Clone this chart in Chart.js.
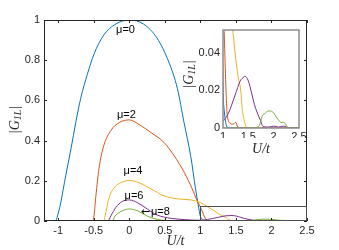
<!DOCTYPE html>
<html>
<head>
<meta charset="utf-8">
<script src="https://cdn.jsdelivr.net/npm/chart.js@4.4.0/dist/chart.umd.min.js"></script>
<style>
  html, body { margin: 0; padding: 0; background: #fff; }
  #wrap { position: relative; width: 339px; height: 250px; }
  #wrap canvas { position: absolute; left: 0; top: 0; }
</style>
</head>
<body>
<div id="wrap">
  <canvas id="main" width="339" height="250"></canvas>
  <canvas id="inset" width="339" height="250"></canvas>
</div>
<script>
// ticks
const xTicks = [-1, -0.5, 0, 0.5, 1, 1.5, 2, 2.5];
const yTicks = [0, 0.2, 0.4, 0.6, 0.8, 1];
const insetXTicks = [1, 1.5, 2, 2.5];
const insetYTicks = [0, 0.02, 0.04];

// |G_1L| against U/t, one pair of arrays per mu
const u0 = [-1.2, -1.04, -1.01, -0.965, -0.895, -0.82, -0.753, -0.684, -0.59, -0.497, -0.359, -0.19, 0, 0.2, 0.39, 0.557, 0.676, 0.77, 0.863, 0.932, 0.97, 1.0, 1.03, 1.06, 1.1, 2.5];
const g0 = [0, 0, 0.025, 0.09, 0.225, 0.36, 0.49, 0.61, 0.73, 0.83, 0.925, 0.98, 1.0, 0.98, 0.91, 0.79, 0.66, 0.49, 0.325, 0.16, 0.08, 0.022, 0.008, 0.002, 0, 0];

const u2 = [-1.2, -0.52, -0.497, -0.47, -0.427, -0.359, -0.26, -0.14, 0, 0.138, 0.305, 0.49, 0.63, 0.776, 0.885, 0.956, 1.0, 1.03, 1.06, 1.08, 1.14, 1.2, 1.25, 1.29, 1.32, 2.5];
const g2 = [0, 0, 0.025, 0.125, 0.26, 0.375, 0.45, 0.49, 0.503, 0.48, 0.44, 0.39, 0.325, 0.24, 0.16, 0.1, 0.07, 0.045, 0.02, 0.008, 0.0025, 0.002, 0.003, 0.0005, 0, 0];

const u4 = [-1.2, -0.36, -0.34, -0.29, -0.21, -0.12, 0, 0.138, 0.305, 0.49, 0.676, 0.863, 1.0, 1.08, 1.15, 1.2, 1.25, 1.3, 1.35, 1.38, 1.42, 1.46, 1.5, 2.5];
const g4 = [0, 0, 0.025, 0.11, 0.167, 0.19, 0.202, 0.19, 0.16, 0.125, 0.11, 0.105, 0.092, 0.075, 0.06, 0.05, 0.037, 0.027, 0.02, 0.01, 0.004, 0.0005, 0, 0];

const u6 = [-1.2, -0.3, -0.26, -0.19, -0.1, 0, 0.12, 0.26, 0.39, 0.59, 0.78, 0.96, 1.0, 1.1, 1.24, 1.34, 1.41, 1.43, 1.5, 1.57, 1.62, 1.67, 1.74, 1.79, 1.9, 2.0, 2.1, 2.2, 2.3, 2.5];
const g6 = [0, 0, 0.025, 0.067, 0.097, 0.105, 0.09, 0.058, 0.03, 0.013, 0.007, 0.004, 0.004, 0.0075, 0.0175, 0.025, 0.027, 0.0275, 0.025, 0.018, 0.0125, 0.0085, 0.004, 0.0008, 0.0005, 0.001, 0.0005, 0.001, 0, 0];

const u8 = [-1.2, -0.24, -0.2, -0.1, 0, 0.12, 0.25, 0.39, 0.59, 0.8, 1.6, 1.72, 1.77, 1.84, 1.89, 1.94, 2.0, 2.06, 2.1, 2.15, 2.2, 2.27, 2.3, 2.5];
const g8 = [0, 0, 0.025, 0.05, 0.06, 0.05, 0.025, 0.008, 0.002, 0, 0, 0.0015, 0.006, 0.008, 0.009, 0.009, 0.008, 0.0055, 0.004, 0.003, 0.003, 0.0005, 0, 0];

const series = [[u0, g0], [u2, g2], [u4, g4], [u6, g6], [u8, g8]];
const colors = ['#0072BD', '#D95319', '#EDB120', '#7E2F8E', '#77AC30'];

// zoom rectangle drawn on the main axes
const boxU = [1, 2.5];
const boxG = [0, 0.077];

// text labels next to the curves
const notes = [
  { text: '\u03bc=0', u: -0.053, g: 0.95, align: 'center' },
  { text: '\u03bc=2', u: -0.04, g: 0.527, align: 'center' },
  { text: '\u03bc=4', u: 0.052, g: 0.247, align: 'center' },
  { text: '\u03bc=6', u: 0.066, g: 0.127, align: 'center' },
  { text: '\u03bc=8', u: 0.16, g: 0.043, align: 'left', arrow: true }
];

const axisColor = '#262626';
const tickFont = { family: '"Liberation Sans", Arial, sans-serif', size: 11 };
const noteFont = '11px "Liberation Sans", Arial, sans-serif';

function makeSets() {
  return series.map(([u, g], i) => ({
    data: u.map((v, j) => ({ x: v, y: g[j] })),
    borderColor: colors[i],
    borderWidth: 1,
    pointRadius: 0,
    fill: false,
    cubicInterpolationMode: 'monotone',
    order: series.length - 1 - i
  }));
}

function fmt(v) {
  return String(Math.round(v * 1000) / 1000);
}

function drawGLabel(ctx, cx, cy) {
  const big = 'italic 14px "Liberation Serif", serif';
  const bar = '14px "Liberation Serif", serif';
  const small = 'italic 10px "Liberation Serif", serif';
  ctx.save();
  ctx.translate(cx, cy);
  ctx.rotate(-Math.PI / 2);
  ctx.fillStyle = axisColor;
  ctx.textBaseline = 'middle';
  ctx.font = bar; const wb = ctx.measureText('|').width;
  ctx.font = big; const wg = ctx.measureText('G').width;
  ctx.font = small; const ws = ctx.measureText('1L').width;
  let x = -(wb * 2 + wg + ws + 1) / 2;
  ctx.font = bar; ctx.fillText('|', x, 0); x += wb;
  ctx.font = big; ctx.fillText('G', x, 0); x += wg;
  ctx.font = small; ctx.fillText('1L', x, 3); x += ws + 1;
  ctx.font = bar; ctx.fillText('|', x, 0);
  ctx.restore();
}

function drawUt(ctx, cx, cy) {
  ctx.save();
  ctx.fillStyle = axisColor;
  ctx.font = 'italic 14px "Liberation Serif", serif';
  ctx.textAlign = 'center';
  ctx.textBaseline = 'middle';
  ctx.fillText('U/t', cx, cy);
  ctx.restore();
}

// main axes: box, inner ticks on all sides, zoom box, labels
const mainDecor = {
  id: 'mainDecor',
  afterDraw(chart) {
    const { ctx, chartArea: a, scales: { x, y } } = chart;
    ctx.save();
    ctx.strokeStyle = axisColor;
    ctx.lineWidth = 1;
    ctx.strokeRect(a.left + 0.5, a.top + 0.5, a.right - a.left - 1, a.bottom - a.top - 1);
    ctx.beginPath();
    xTicks.forEach(v => {
      const px = Math.round(x.getPixelForValue(v)) + 0.5;
      ctx.moveTo(px, a.bottom); ctx.lineTo(px, a.bottom - 3);
      ctx.moveTo(px, a.top); ctx.lineTo(px, a.top + 3);
    });
    yTicks.forEach(v => {
      const py = Math.round(y.getPixelForValue(v)) + 0.5;
      ctx.moveTo(a.left, py); ctx.lineTo(a.left + 3, py);
      ctx.moveTo(a.right, py); ctx.lineTo(a.right - 3, py);
    });
    ctx.stroke();

    // zoom rectangle
    ctx.strokeStyle = '#4d4d4d';
    const bx0 = Math.round(x.getPixelForValue(boxU[0])) + 0.5;
    const bx1 = Math.round(x.getPixelForValue(boxU[1])) - 0.5;
    const by0 = Math.round(y.getPixelForValue(boxG[0])) - 0.5;
    const by1 = Math.round(y.getPixelForValue(boxG[1])) + 0.5;
    ctx.strokeRect(bx0, by1, bx1 - bx0, by0 - by1);

    // curve labels
    ctx.fillStyle = '#000';
    ctx.textBaseline = 'middle';
    notes.forEach(n => {
      let px = x.getPixelForValue(n.u);
      const py = y.getPixelForValue(n.g);
      if (n.arrow) {
        ctx.font = '11px "DejaVu Sans", sans-serif';
        ctx.textAlign = 'left';
        ctx.fillText('\u2190', px, py);
        px += ctx.measureText('\u2190').width + 1;
      }
      ctx.font = noteFont;
      ctx.textAlign = n.align;
      ctx.fillText(n.text, px, py);
    });
    ctx.restore();

    drawUt(ctx, (a.left + a.right) / 2, 241.5);
    drawGLabel(ctx, 15.5, (a.top + a.bottom) / 2 - 1);
  }
};

// inset axes: white background and grey box
const insetDecor = {
  id: 'insetDecor',
  beforeDraw(chart) {
    const { ctx, chartArea: a } = chart;
    ctx.save();
    ctx.fillStyle = '#fff';
    ctx.fillRect(a.left, a.top, a.right - a.left, a.bottom - a.top);
    ctx.restore();
  },
  afterDraw(chart) {
    const { ctx, chartArea: a } = chart;
    ctx.save();
    ctx.strokeStyle = '#8c8c8c';
    ctx.lineWidth = 1.5;
    ctx.strokeRect(a.left, a.top, a.right - a.left, a.bottom - a.top);
    ctx.restore();
    drawUt(ctx, (a.left + a.right) / 2, 149);
    drawGLabel(ctx, 189, (a.top + a.bottom) / 2 - 5);
  }
};

function axisOpts(min, max, ticks, size, pad) {
  return {
    type: 'linear',
    min: min,
    max: max,
    bounds: 'data',
    afterBuildTicks: s => { s.ticks = ticks.map(v => ({ value: v })); },
    afterFit: s => {
      if (s.isHorizontal()) s.height = size; else s.width = size;
    },
    grid: { display: false, drawTicks: false },
    border: { display: false },
    ticks: {
      padding: pad,
      color: axisColor,
      font: tickFont,
      autoSkip: false,
      maxRotation: 0,
      callback: v => fmt(v)
    }
  };
}

const common = {
  responsive: false,
  animation: false,
  events: [],
  plugins: { legend: { display: false }, tooltip: { enabled: false } }
};

new Chart(document.getElementById('main').getContext('2d'), {
  type: 'line',
  data: { datasets: makeSets() },
  options: Object.assign({}, common, {
    layout: { padding: { left: 0, top: 20, right: 32, bottom: 0 } },
    scales: {
      x: axisOpts(-1.2, 2.5, xTicks, 29, 3),
      y: axisOpts(0, 1, yTicks, 44, 4)
    }
  }),
  plugins: [mainDecor]
});

new Chart(document.getElementById('inset').getContext('2d'), {
  type: 'line',
  data: { datasets: makeSets() },
  options: Object.assign({}, common, {
    layout: { padding: { left: 193, top: 30, right: 40, bottom: 112 } },
    scales: {
      x: axisOpts(1, 2.5, insetXTicks, 10, 2),
      y: axisOpts(0, 0.052, insetYTicks, 30, 3)
    }
  }),
  plugins: [insetDecor]
});
</script>
</body>
</html>
